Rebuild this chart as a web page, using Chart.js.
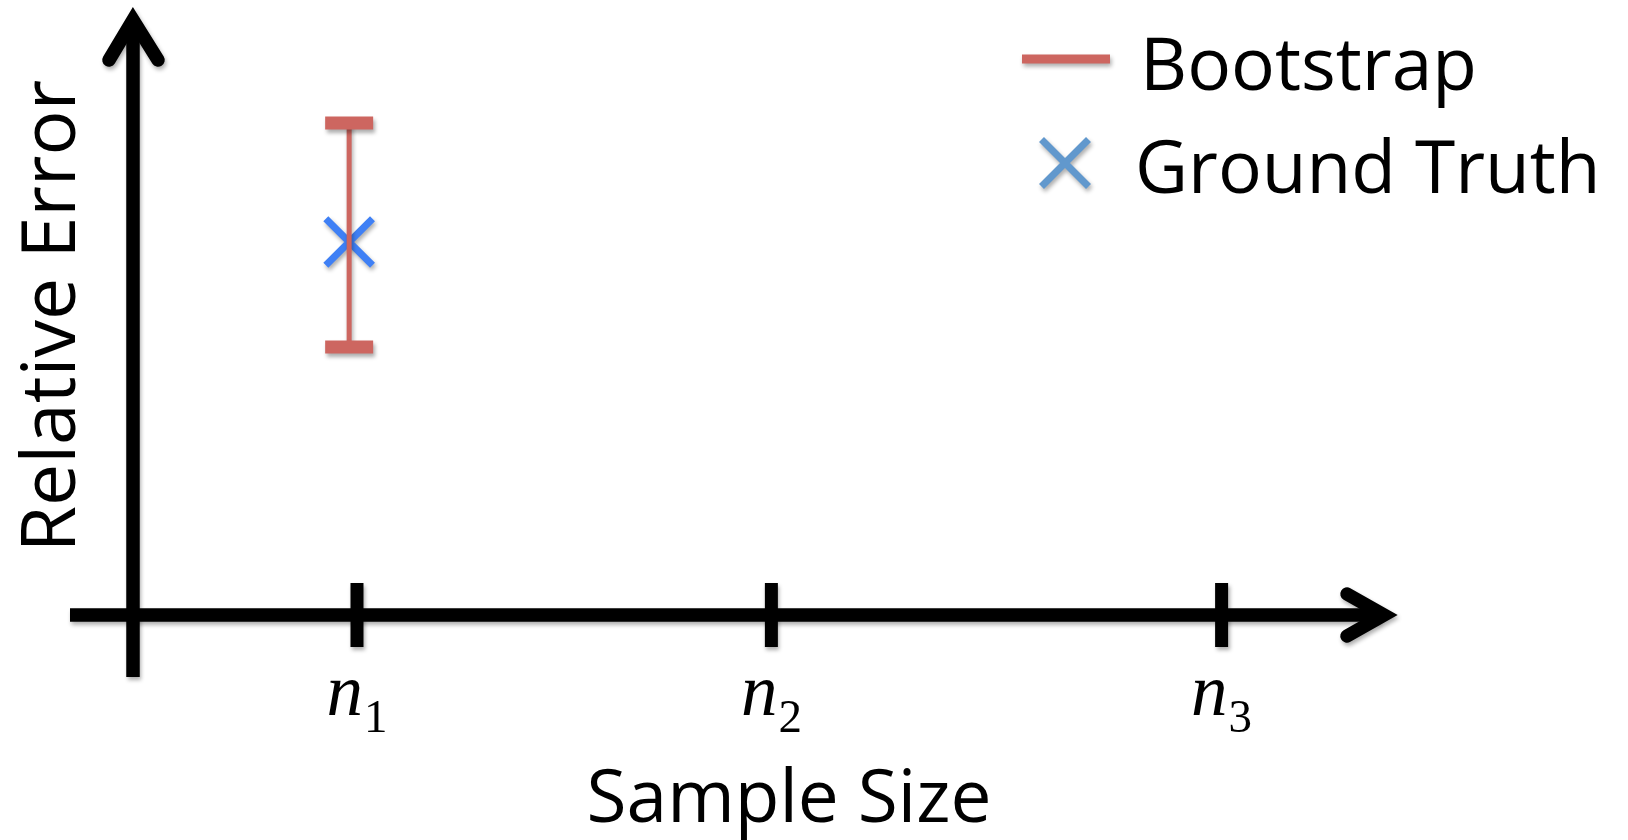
<!DOCTYPE html>
<html>
<head>
<meta charset="utf-8">
<script src="https://cdn.jsdelivr.net/npm/chart.js@4.4.1/dist/chart.umd.min.js"></script>
<style>
  html, body { margin: 0; padding: 0; background: #ffffff; }
  #wrap { width: 1628px; height: 840px; position: relative; }
</style>
</head>
<body>
<div id="wrap"><canvas id="c"></canvas></div>
<script>
// ---- data ----
const tickBase = 'n';
const tickSubs = ['1', '2', '3'];
const tickValues = [1, 2.85, 4.86];
const sampleX = [0.965];
const bootstrapLow = [2.68];
const bootstrapHigh = [4.92];
const groundTruth = [3.73];
const seriesNames = ['Bootstrap', 'Ground Truth'];
const axisTitles = { x: 'Sample Size', y: 'Relative Error' };

// ---- styles ----
const RED = '#cd6660';
const BLUE = '#3f80f5';
const LEGEND_BLUE = '#6198cd';
const SANS = '"Open Sans", "Noto Sans", sans-serif';
const SERIF = '"Liberation Serif", "DejaVu Serif", serif';

function setShadow(ctx) {
  ctx.shadowColor = 'rgba(0,0,0,0.32)';
  ctx.shadowBlur = 4;
  ctx.shadowOffsetX = 1.5;
  ctx.shadowOffsetY = 3;
}

const axesPlugin = {
  id: 'arrowAxes',
  beforeDatasetsDraw(chart) {
    const ctx = chart.ctx;
    const xs = chart.scales.x, ys = chart.scales.y;
    const x0 = xs.getPixelForValue(0);
    const y0 = ys.getPixelForValue(0);
    const xEnd = xs.getPixelForValue(xs.max);
    const yEnd = ys.getPixelForValue(ys.max);
    ctx.save();
    setShadow(ctx);
    ctx.strokeStyle = '#000';
    ctx.lineWidth = 13.5;
    // y axis line
    ctx.lineCap = 'butt';
    ctx.beginPath();
    ctx.moveTo(x0, y0 + 62);
    ctx.lineTo(x0, yEnd + 4);
    ctx.stroke();
    // x axis line
    ctx.beginPath();
    ctx.moveTo(x0 - 63, y0);
    ctx.lineTo(xEnd - 4, y0);
    ctx.stroke();
    // ticks
    ctx.lineWidth = 13;
    tickValues.forEach(v => {
      const px = xs.getPixelForValue(v);
      ctx.beginPath();
      ctx.moveTo(px, y0 - 32);
      ctx.lineTo(px, y0 + 32);
      ctx.stroke();
    });
    // arrow heads
    ctx.lineWidth = 13.5;
    ctx.lineCap = 'round';
    ctx.lineJoin = 'miter';
    ctx.miterLimit = 10;
    ctx.beginPath();
    ctx.moveTo(x0 - 24, yEnd + 40);
    ctx.lineTo(x0, yEnd);
    ctx.lineTo(x0 + 25, yEnd + 40);
    ctx.stroke();
    ctx.beginPath();
    ctx.moveTo(xEnd - 37, y0 - 21);
    ctx.lineTo(xEnd, y0);
    ctx.lineTo(xEnd - 37, y0 + 21);
    ctx.stroke();
    ctx.restore();

    // shadows for the data marks
    ctx.save();
    setShadow(ctx);
  },
  afterDatasetsDraw(chart) {
    chart.ctx.restore();
  },
  afterDraw(chart) {
    const ctx = chart.ctx;
    const xs = chart.scales.x, ys = chart.scales.y;
    const y0 = ys.getPixelForValue(0);
    ctx.save();
    ctx.fillStyle = '#000';
    // tick labels: italic n with subscript
    tickValues.forEach((v, i) => {
      const px = xs.getPixelForValue(v);
      ctx.font = 'italic 73px ' + SERIF;
      const wN = ctx.measureText(tickBase).width;
      ctx.font = '47px ' + SERIF;
      const wS = ctx.measureText(tickSubs[i]).width;
      const gap = 1;
      const total = wN + gap + wS;
      const left = px - total / 2;
      ctx.textAlign = 'left';
      ctx.textBaseline = 'alphabetic';
      ctx.font = 'italic 73px ' + SERIF;
      ctx.fillText(tickBase, left, y0 + 100);
      ctx.font = '47px ' + SERIF;
      ctx.fillText(tickSubs[i], left + wN + gap, y0 + 117);
    });
    // axis titles
    ctx.font = '73px ' + SANS;
    ctx.textAlign = 'center';
    ctx.textBaseline = 'alphabetic';
    ctx.fillText(axisTitles.x, 789, 822);
    ctx.save();
    ctx.translate(75, 316);
    ctx.rotate(-Math.PI / 2);
    ctx.font = '75px ' + SANS;
    ctx.fillText(axisTitles.y, 0, 0);
    ctx.restore();

    // legend
    ctx.save();
    setShadow(ctx);
    ctx.strokeStyle = RED;
    ctx.lineWidth = 9;
    ctx.lineCap = 'butt';
    ctx.beginPath();
    ctx.moveTo(1022, 59);
    ctx.lineTo(1110, 59);
    ctx.stroke();
    ctx.strokeStyle = LEGEND_BLUE;
    ctx.lineWidth = 7;
    const cx = 1065, cy = 163, h = 23.5;
    ctx.beginPath();
    ctx.moveTo(cx - h, cy - h); ctx.lineTo(cx + h, cy + h);
    ctx.moveTo(cx + h, cy - h); ctx.lineTo(cx - h, cy + h);
    ctx.stroke();
    ctx.restore();
    ctx.font = '73px ' + SANS;
    ctx.textAlign = 'left';
    ctx.fillText(seriesNames[0], 1140, 90);
    ctx.fillText(seriesNames[1], 1135, 193);
    ctx.restore();
  }
};

const chart = new Chart(document.getElementById('c'), {
  type: 'line',
  data: {
    datasets: [
      {
        label: seriesNames[0],
        data: [
          { x: sampleX[0], y: bootstrapLow[0] },
          { x: sampleX[0], y: bootstrapHigh[0] }
        ],
        borderColor: RED,
        borderWidth: 5,
        pointStyle: 'line',
        pointRadius: 24,
        pointBorderWidth: 13,
        pointBorderColor: RED,
        pointBackgroundColor: RED,
        fill: false
      },
      {
        label: seriesNames[1],
        data: sampleX.map((x, i) => ({ x: x, y: groundTruth[i] })),
        showLine: false,
        pointStyle: 'crossRot',
        pointRadius: 33,
        pointBorderWidth: 7,
        pointBorderColor: BLUE,
        borderColor: BLUE
      }
    ]
  },
  options: {
    responsive: true,
    maintainAspectRatio: false,
    animation: false,
    events: [],
    layout: { autoPadding: false, padding: { left: 133, right: 244, top: 20, bottom: 225 } },
    scales: {
      x: { type: 'linear', min: 0, max: 5.585, display: false },
      y: { type: 'linear', min: 0, max: 5.95, display: false }
    },
    plugins: {
      legend: { display: false },
      tooltip: { enabled: false }
    },
    clip: false
  },
  plugins: [axesPlugin]
});
</script>
</body>
</html>
